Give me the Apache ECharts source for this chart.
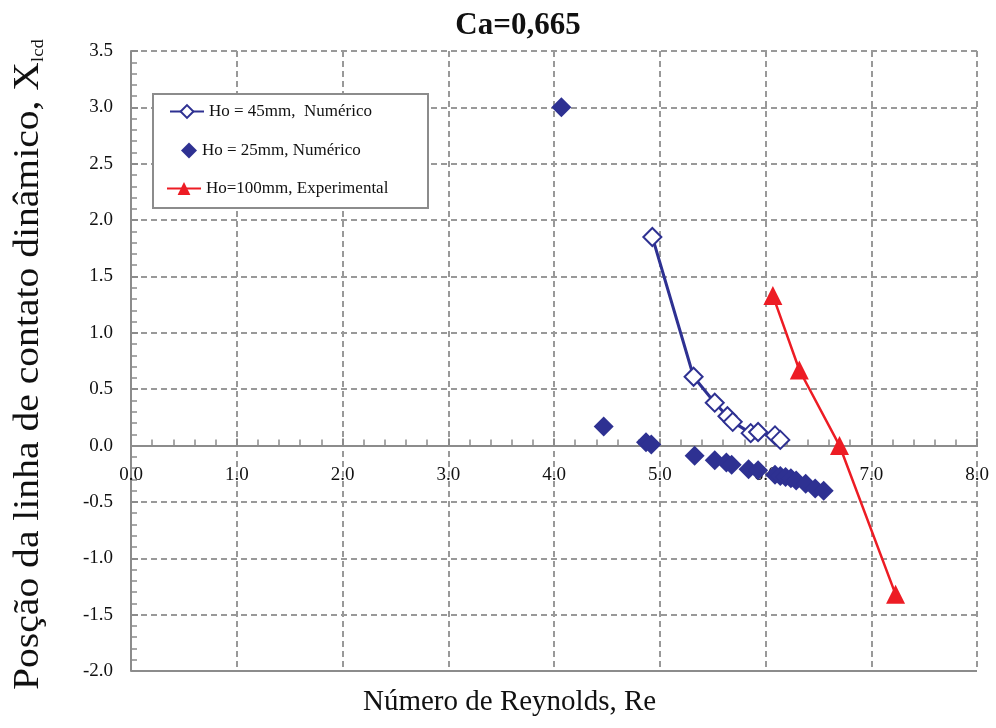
<!DOCTYPE html>
<html>
<head>
<meta charset="utf-8">
<script src="https://cdn.jsdelivr.net/npm/echarts@6/dist/echarts.min.js"></script>
<style>
html, body { margin: 0; padding: 0; background: #fff; }
#chart { width: 996px; height: 728px; }
</style>
</head>
<body>
<div id="chart"></div>
<script>
// Ho = 45mm, numerico (open diamonds, line)
var ho45Re = [4.93, 5.32, 5.52, 5.64, 5.69, 5.86, 5.93, 6.09, 6.14];
var ho45X  = [1.85, 0.61, 0.38, 0.26, 0.21, 0.11, 0.12, 0.09, 0.05];

// Ho = 25mm, numerico (filled diamonds)
var ho25Re = [4.07, 4.47, 4.87, 4.92, 5.33, 5.52, 5.63, 5.68, 5.84, 5.93, 6.09, 6.14, 6.19, 6.24, 6.29, 6.38, 6.47, 6.55];
var ho25X  = [3.00, 0.17, 0.03, 0.01, -0.09, -0.13, -0.15, -0.17, -0.21, -0.22, -0.26, -0.27, -0.28, -0.29, -0.31, -0.34, -0.38, -0.40];

// Ho = 100mm, experimental (red triangles)
var ho100Re = [6.07, 6.32, 6.70, 7.23];
var ho100X  = [1.33, 0.67, 0.00, -1.32];

var legendNames = ['Ho = 45mm,  Numérico', 'Ho = 25mm, Numérico', 'Ho=100mm, Experimental'];

function pairs(xs, ys) {
    var out = [];
    for (var i = 0; i < xs.length; i++) out.push([xs[i], ys[i]]);
    return out;
}

var serif = '"Liberation Serif", "DejaVu Serif", serif';
var blue = '#2e3192';
var red = '#ed1c24';
var gray = '#8c8c8c';

// one legend per row so the diamond icon can keep its own width
function legendRow(name, top, left, w, h) {
    return {
        orient: 'vertical',
        left: left,
        top: top,
        z: 20,
        padding: 0,
        itemWidth: w,
        itemHeight: h,
        itemGap: 0,
        textStyle: { fontFamily: serif, fontSize: 17, color: '#111' },
        data: [name]
    };
}

var chart = echarts.init(document.getElementById('chart'));

chart.setOption({
    animation: false,
    backgroundColor: '#fff',
    title: {
        text: 'Ca=0,665',
        left: 513,
        textAlign: 'center',
        top: 5,
        textStyle: { fontFamily: serif, fontSize: 31, fontWeight: 'bold', color: '#111' }
    },
    graphic: [{
        type: 'rect',
        shape: { x: 153, y: 94, width: 275, height: 114 },
        style: { fill: '#fff', stroke: gray, lineWidth: 2 },
        z: 5
    }, {
        type: 'text',
        left: 363,
        top: 688,
        style: { text: 'Número de Reynolds, Re', font: '29px ' + serif, fill: '#111' }
    }, {
        type: 'text',
        x: 11,
        y: 690,
        rotation: Math.PI / 2,
        scaleX: 1.1,
        style: {
            text: '{m|Posção da linha de contato dinâmico, X}{s|lcd}',
            rich: {
                m: { fontFamily: serif, fontSize: 36, fill: '#111' },
                s: { fontFamily: serif, fontSize: 17, fill: '#111', verticalAlign: 'bottom', padding: [16, 0, 0, 0] }
            }
        }
    }],
    legend: [
        legendRow(legendNames[0], 103, 169, 34, 16),
        legendRow(legendNames[1], 142, 181, 16, 16),
        legendRow(legendNames[2], 180, 166, 34, 16)
    ],
    grid: { left: 131, right: 19, top: 51, bottom: 57 },
    xAxis: {
        type: 'value',
        min: 0, max: 8, interval: 1,
        position: 'bottom',
        offset: -225.5,
        axisLine: { onZero: false, lineStyle: { color: gray, width: 2 } },
        axisTick: { inside: true, length: 7, lineStyle: { color: gray, width: 2 } },
        minorTick: { show: true, splitNumber: 5, length: 6, lineStyle: { color: gray, width: 1.5 } },
        axisLabel: { margin: 20, fontFamily: serif, fontSize: 19, color: '#111',
            formatter: function (v) { return v.toFixed(1); } },
        splitLine: { show: true, lineStyle: { color: '#999', type: [6, 4], width: 2 } }
    },
    yAxis: {
        type: 'value',
        min: -2, max: 3.5, interval: 0.5,
        axisLine: { show: true, lineStyle: { color: gray, width: 2 } },
        axisTick: { inside: true, length: 7, lineStyle: { color: gray, width: 2 } },
        minorTick: { show: true, splitNumber: 5, length: 6, lineStyle: { color: gray, width: 1.5 } },
        axisLabel: { margin: 18, fontFamily: serif, fontSize: 19, color: '#111',
            formatter: function (v) { return v.toFixed(1); } },
        splitLine: { show: true, lineStyle: { color: '#999', type: [6, 4], width: 2 } }
    },
    series: [{
        name: legendNames[0],
        type: 'line',
        data: pairs(ho45Re, ho45X),
        symbol: 'emptyDiamond',
        symbolSize: 18,
        lineStyle: { color: blue, width: 3 },
        itemStyle: { color: blue, borderWidth: 2.5 },
        markLine: {
            silent: true,
            symbol: 'none',
            label: { show: false },
            lineStyle: { color: gray, width: 2, type: 'solid' },
            data: [{ yAxis: -2 }]
        },
        z: 3
    }, {
        name: legendNames[1],
        type: 'scatter',
        data: pairs(ho25Re, ho25X),
        symbol: 'diamond',
        symbolSize: 20,
        itemStyle: { color: blue, opacity: 1 },
        z: 2
    }, {
        name: legendNames[2],
        type: 'line',
        data: pairs(ho100Re, ho100X),
        symbol: 'triangle',
        symbolSize: 19,
        lineStyle: { color: red, width: 2.5 },
        itemStyle: { color: red },
        z: 4
    }]
});
</script>
</body>
</html>
